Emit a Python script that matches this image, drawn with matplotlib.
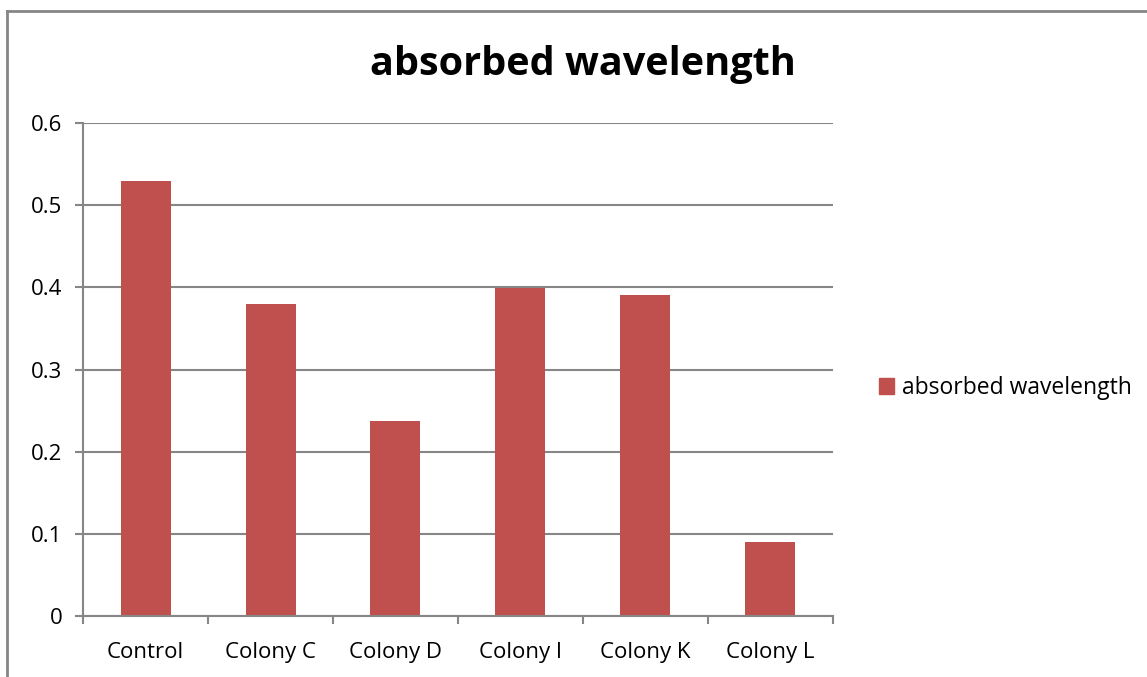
import matplotlib.pyplot as plt
from matplotlib.lines import Line2D
from matplotlib.patches import Patch
import numpy as np

plt.rcParams['font.family'] = ['Open Sans', 'DejaVu Sans']

categories = ['Control', 'Colony C', 'Colony D', 'Colony I', 'Colony K', 'Colony L']
absorbed = [0.529, 0.380, 0.237, 0.399, 0.391, 0.090]

bar_color = '#C0504D'
grid_color = '#868686'

fig = plt.figure(figsize=(11.47, 6.77), dpi=100)
ax = fig.add_axes([83 / 1147, 61 / 677, 750 / 1147, 493 / 677])

x = np.arange(len(categories))
ax.bar(x, absorbed, width=0.4, color=bar_color, zorder=3)

ax.set_xlim(-0.5, len(categories) - 0.5)
ax.set_ylim(0, 0.6)
ax.set_yticks(np.arange(0, 0.61, 0.1))
ax.set_yticklabels(['0', '0.1', '0.2', '0.3', '0.4', '0.5', '0.6'])
ax.yaxis.grid(True, color=grid_color, linewidth=1.5, zorder=0)

# category labels at centres, tick marks at the boundaries
ax.set_xticks(x)
ax.set_xticklabels(categories)
ax.set_xticks(np.arange(-0.5, len(categories)), minor=True)
ax.tick_params(axis='x', which='major', length=0, pad=19, labelsize=16)
ax.tick_params(axis='x', which='minor', length=6, width=1.5, color=grid_color)
ax.tick_params(axis='y', length=6, width=1.5, color=grid_color, labelsize=16, pad=9)

for s in ['top', 'right']:
    ax.spines[s].set_visible(False)
for s in ['left', 'bottom']:
    ax.spines[s].set_color(grid_color)
    ax.spines[s].set_linewidth(1.5)
    ax.spines[s].set_zorder(4)

fig.text(583 / 1147, 1 - 64 / 677, 'absorbed wavelength', ha='center', va='center',
         fontsize=28.5, fontweight='bold')

fig.legend(handles=[Patch(color=bar_color, label='absorbed wavelength')],
           loc='center left', bbox_to_anchor=(858 / 1147, 1 - 388 / 677),
           frameon=False, fontsize=16.5, handlelength=0.65, handleheight=0.65,
           handletextpad=0.35)

# chart frame
fig.add_artist(Line2D([7 / 1147, 7 / 1147], [0, 1 - 11 / 677], color=grid_color, linewidth=2))
fig.add_artist(Line2D([7 / 1147, 1], [1 - 11 / 677, 1 - 11 / 677], color=grid_color, linewidth=2))

fig.savefig('out.png', dpi=100)
